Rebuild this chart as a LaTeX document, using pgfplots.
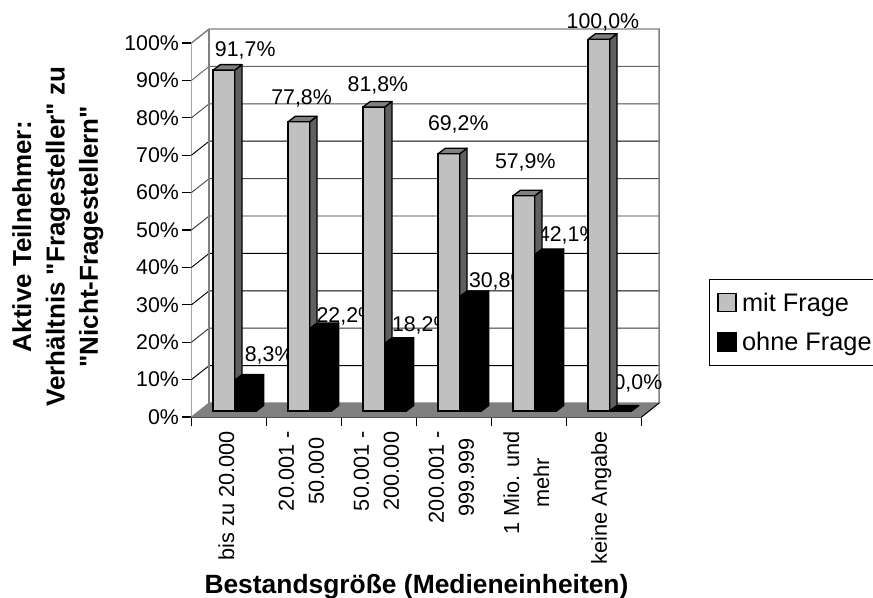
\documentclass[border=0pt]{standalone}
\usepackage{pgfplots}
\usepackage{pgfplotstable}
\usepackage{fontspec}
\setmainfont{Liberation Sans}
\newfontfamily\plainsans{Liberation Sans}
\pgfplotsset{compat=1.18}
\definecolor{barface}{HTML}{C0C0C0}
\definecolor{barside}{HTML}{606060}
\definecolor{bartop}{HTML}{808080}
\definecolor{wall}{HTML}{808080}

\pgfplotstableread{
pos mit ohne
1 91.7 8.3
2 77.8 22.2
3 81.8 18.2
4 69.2 30.8
5 57.9 42.1
6 100.0 0.0
}\shares

\pgfplotsset{square legend/.style={legend image code/.code={\draw[##1] (0pt,-6.5pt) rectangle (13.5pt,7pt);}}}

% 1px = 0.75pt
\newcommand{\barw}{0.289}
\newcommand{\depx}{0.097}
\newcommand{\depy}{1.48}

% side and top of one bar: left x, right x, value, side colour, top colour
\newcommand{\faces}[5]{%
  \pgfmathsetmacro{\xl}{#1}\pgfmathsetmacro{\xr}{#2}\pgfmathsetmacro{\vv}{#3}%
  \pgfmathsetmacro{\xlb}{\xl+\depx}\pgfmathsetmacro{\xrb}{\xr+\depx}\pgfmathsetmacro{\vb}{\vv+\depy}%
  \addplot[forget plot,draw=black,line width=1pt,line join=round,fill=#4] coordinates {(\xr,0)(\xrb,\depy)(\xrb,\vb)(\xr,\vv)} --cycle;
  \addplot[forget plot,draw=black,line width=1pt,line join=round,fill=#5] coordinates {(\xl,\vv)(\xlb,\vb)(\xrb,\vb)(\xr,\vv)} --cycle;
}
\newcommand{\mitfaces}[1]{%
  \pgfplotstablegetelem{#1}{pos}\of\shares\edef\cpos{\pgfplotsretval}%
  \pgfplotstablegetelem{#1}{mit}\of\shares\edef\cval{\pgfplotsretval}%
  \pgfmathsetmacro{\catl}{\cpos-\barw}%
  \faces{\catl}{\cpos}{\cval}{barside}{bartop}}
\newcommand{\ohnefaces}[1]{%
  \pgfplotstablegetelem{#1}{pos}\of\shares\edef\cpos{\pgfplotsretval}%
  \pgfplotstablegetelem{#1}{ohne}\of\shares\edef\cval{\pgfplotsretval}%
  \pgfmathsetmacro{\catr}{\cpos+\barw}%
  \faces{\cpos}{\catr}{\cval}{black}{black}}
% label: row, column, x offset of the bar centre, text, shifts in pt
\newcommand{\barlabel}[6]{%
  \pgfplotstablegetelem{#1}{pos}\of\shares\edef\cpos{\pgfplotsretval}%
  \pgfplotstablegetelem{#1}{#2}\of\shares\edef\cval{\pgfplotsretval}%
  \pgfmathsetmacro{\labx}{\cpos+#3}%
  \addplot[forget plot,draw=none] coordinates {(\labx,\cval)} node[xshift=#5pt,yshift=#6pt,inner sep=0pt] {#4\%};
}

\begin{document}
\begin{tikzpicture}[font=\fontsize{16}{19}\selectfont]
\useasboundingbox (0,0) rectangle (654.75pt,448.5pt);
% frame: walls, floor, grid, ticks and labels
\begin{axis}[
  at={(143.6pt,135.75pt)},anchor=south west,
  scale only axis,width=337.5pt,height=280.5pt,
  xmin=0,xmax=6,ymin=0,ymax=100,clip=false,
  axis x line=bottom,axis y line=left,
  axis line style={-,black,line width=0.8pt},
  tick align=outside,major tick length=7pt,
  tick style={black,line width=0.8pt},
  ytick={0,10,...,100},
  yticklabel={\pgfmathprintnumber{\tick}\%},
  yticklabel style={inner sep=2.2pt},
  xtick={0,1,...,6},xticklabels={},
  extra x ticks={0.5,1.5,2.5,3.5,4.5,5.5},
  extra x tick style={major tick length=0pt,tick style={draw=none}},
  extra x tick labels={bis zu 20.000,20.001 -\\50.000,50.001 -\\200.000,200.001 -\\999.999,1 Mio. und\\mehr,keine Angabe},
  xticklabel style={rotate=90,anchor=east,align=center,font=\fontsize{16.3}{22.5}\selectfont,inner sep=0pt,yshift=2pt,xshift=-10.5pt},
  /pgf/number format/assume math mode=true,
  xlabel={Bestandsgröße (Medieneinheiten)},
  xlabel style={at={(0.5,0)},anchor=base,yshift=-132pt,font=\plainsans\bfseries\fontsize{19.8}{22}\selectfont},
  ylabel={Aktive Teilnehmer:\\Verhältnis "Fragesteller" zu\\"Nicht-Fragestellern"},
  ylabel style={at={(0,0.5)},align=center,anchor=south,yshift=62.5pt,xshift=-5pt,font=\plainsans\bfseries\fontsize{19.5}{25}\selectfont},
]
\addplot[forget plot,draw=none,fill=white] coordinates {(0,0)(0.236,3.74)(6.236,3.74)(6.236,103.74)(0.236,103.74)(0,100)} --cycle;
\addplot[forget plot,draw=wall,line width=0.8pt,fill=wall] coordinates {(0,0)(0.236,3.74)(6.236,3.74)(6,0)} --cycle;
\addplot[forget plot,black,line width=0.7pt] coordinates {(0,10)(0.236,13.74)(6.236,13.74)};
\addplot[forget plot,black!80,line width=0.7pt] coordinates {(0,20)(0.236,23.74)(6.236,23.74)};
\addplot[forget plot,black,line width=0.7pt] coordinates {(0,30)(0.236,33.74)(6.236,33.74)};
\addplot[forget plot,black,line width=0.7pt] coordinates {(0,40)(0.236,43.74)(6.236,43.74)};
\addplot[forget plot,black!80,line width=0.7pt] coordinates {(0,50)(0.236,53.74)(6.236,53.74)};
\addplot[forget plot,black!70,line width=0.7pt] coordinates {(0,60)(0.236,63.74)(6.236,63.74)};
\addplot[forget plot,black,line width=0.7pt] coordinates {(0,70)(0.236,73.74)(6.236,73.74)};
\addplot[forget plot,black!70,line width=0.7pt] coordinates {(0,80)(0.236,83.74)(6.236,83.74)};
\addplot[forget plot,black!60,line width=0.7pt] coordinates {(0,90)(0.236,93.74)(6.236,93.74)};
\addplot[forget plot,wall,line width=1.1pt] coordinates {(0,100)(0.236,103.74)(6.236,103.74)(6.236,3.74)};
\addplot[forget plot,wall,line width=1.1pt] coordinates {(0.236,103.74)(0.236,3.74)};
\addplot[forget plot,black,line width=0.7pt] coordinates {(6,0)(6.236,3.74)};
\end{axis}
% bars; the labels of the black series lie behind all the bars
\begin{axis}[
  at={(143.6pt,135.75pt)},anchor=south west,
  scale only axis,width=337.5pt,height=280.5pt,
  xmin=0.423,xmax=6.423,ymin=-1.614,ymax=99,clip=false,
  hide axis,
  legend entries={mit Frage,ohne Frage},
  legend style={at={(1.15,0.369)},anchor=north west,draw=black,line width=0.7pt,
    inner xsep=6pt,inner ysep=8pt,row sep=10.3pt,font=\fontsize{19}{22}\selectfont,
    /tikz/every odd column/.append style={column sep=2pt},
    legend cell align=left},
]
\barlabel{0}{ohne}{0.1445}{8,3}{17.7}{18.8}
\barlabel{1}{ohne}{0.1445}{22,2}{19.7}{9.4}
\barlabel{2}{ohne}{0.1445}{18,2}{20}{13.5}
\barlabel{3}{ohne}{0.1445}{30,8}{21.5}{11.6}
\barlabel{4}{ohne}{0.1445}{42,1}{17}{14}
\barlabel{5}{ohne}{0.1445}{0,0}{13}{20.8}
\addplot[ybar,square legend,bar width=16.3pt,bar shift=-8.15pt,draw=black,line width=1pt,fill=barface] table[x=pos,y=mit]{\shares};
\mitfaces{0}\mitfaces{1}\mitfaces{2}\mitfaces{3}\mitfaces{4}\mitfaces{5}
\addplot[ybar,square legend,bar width=16.3pt,bar shift=8.15pt,draw=black,line width=1pt,fill=black] table[x=pos,y=ohne]{\shares};
\ohnefaces{0}\ohnefaces{1}\ohnefaces{2}\ohnefaces{3}\ohnefaces{4}\ohnefaces{5}
\barlabel{0}{mit}{-0.1445}{91,7}{16}{15}
\barlabel{1}{mit}{-0.1445}{77,8}{2}{17.8}
\barlabel{2}{mit}{-0.1445}{81,8}{3}{15.8}
\barlabel{3}{mit}{-0.1445}{69,2}{7}{22}
\barlabel{4}{mit}{-0.1445}{57,9}{1}{25}
\barlabel{5}{mit}{-0.1445}{100,0}{3}{13}
\end{axis}
\end{tikzpicture}
\end{document}
